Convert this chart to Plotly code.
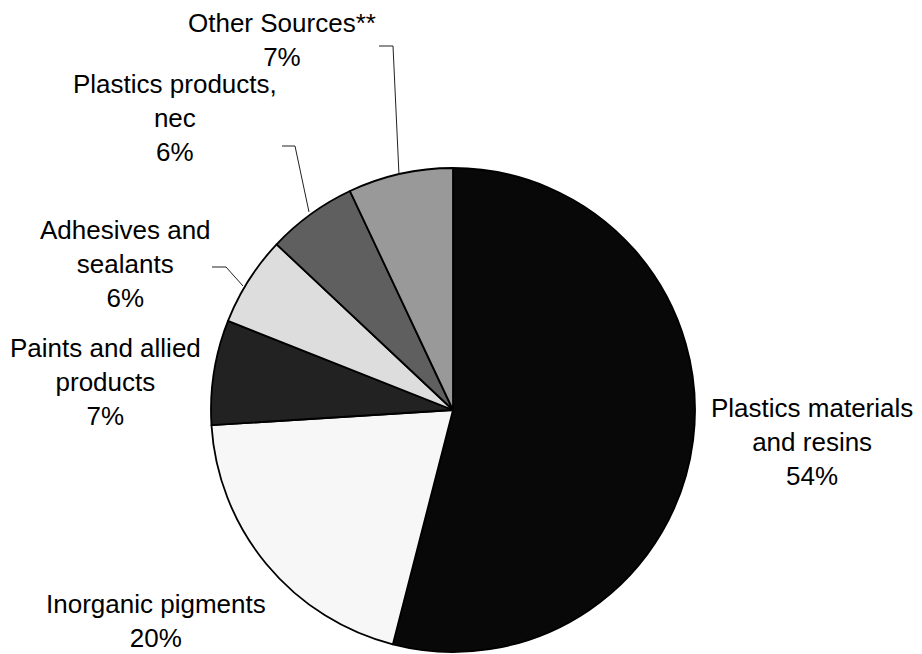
import plotly.graph_objects as go

W, H = 922, 654

categories = ["Plastics materials and resins", "Inorganic pigments", "Paints and allied products",
              "Adhesives and sealants", "Plastics products, nec", "Other Sources**"]
values = [54, 20, 7, 6, 6, 7]
label_text = ["Plastics materials<br>and resins", "Inorganic pigments", "Paints and allied<br>products",
              "Adhesives and<br>sealants", "Plastics products,<br>nec", "Other Sources**"]
colors = ["#080808", "#f7f7f7", "#222222", "#dddddd", "#5f5f5f", "#999999"]

# label block centres (pixels)
label_pos = [(812, 442), (156, 621), (105, 382), (125, 264), (175, 118), (282, 40)]

# leader lines (pixels), None where absent
leaders = [None, None, None,
           [(212, 267), (226, 267), (243, 286)],
           [(282, 146), (295, 146), (309, 212)],
           [(379, 46), (393, 46), (399, 175)]]

def px(x):
    return x / W

def py(y):
    return 1 - y / H

fig = go.Figure(go.Pie(
    labels=categories,
    values=values,
    sort=False,
    direction="clockwise",
    rotation=0,
    marker=dict(colors=colors, line=dict(color="#000000", width=1.8)),
    textinfo="none",
    hoverinfo="label+percent",
    showlegend=False,
    domain=dict(x=[px(209), px(697)], y=[py(652), py(168)]),
))

total = sum(values)
for i, cat in enumerate(categories):
    pct = round(values[i] / total * 100)
    x, y = label_pos[i]
    fig.add_annotation(
        x=px(x), y=py(y), xref="paper", yref="paper",
        text=f"{label_text[i]}<br>{pct}%", showarrow=False,
        xanchor="center", yanchor="middle", align="center",
        font=dict(family="Liberation Sans, Arial, sans-serif", size=26, color="#000000"),
    )
    if leaders[i]:
        pts = leaders[i]
        path = "M " + " L ".join(f"{px(a)},{py(b)}" for a, b in pts)
        fig.add_shape(type="path", path=path, xref="paper", yref="paper",
                      line=dict(color="#222222", width=1))

fig.update_layout(
    width=W, height=H,
    margin=dict(l=0, r=0, t=0, b=0),
    paper_bgcolor="#ffffff",
    plot_bgcolor="#ffffff",
)

fig.write_html("out.html",
               config={"displayModeBar": False},
               post_script="document.body.style.margin='0';document.body.style.overflow='hidden';")
